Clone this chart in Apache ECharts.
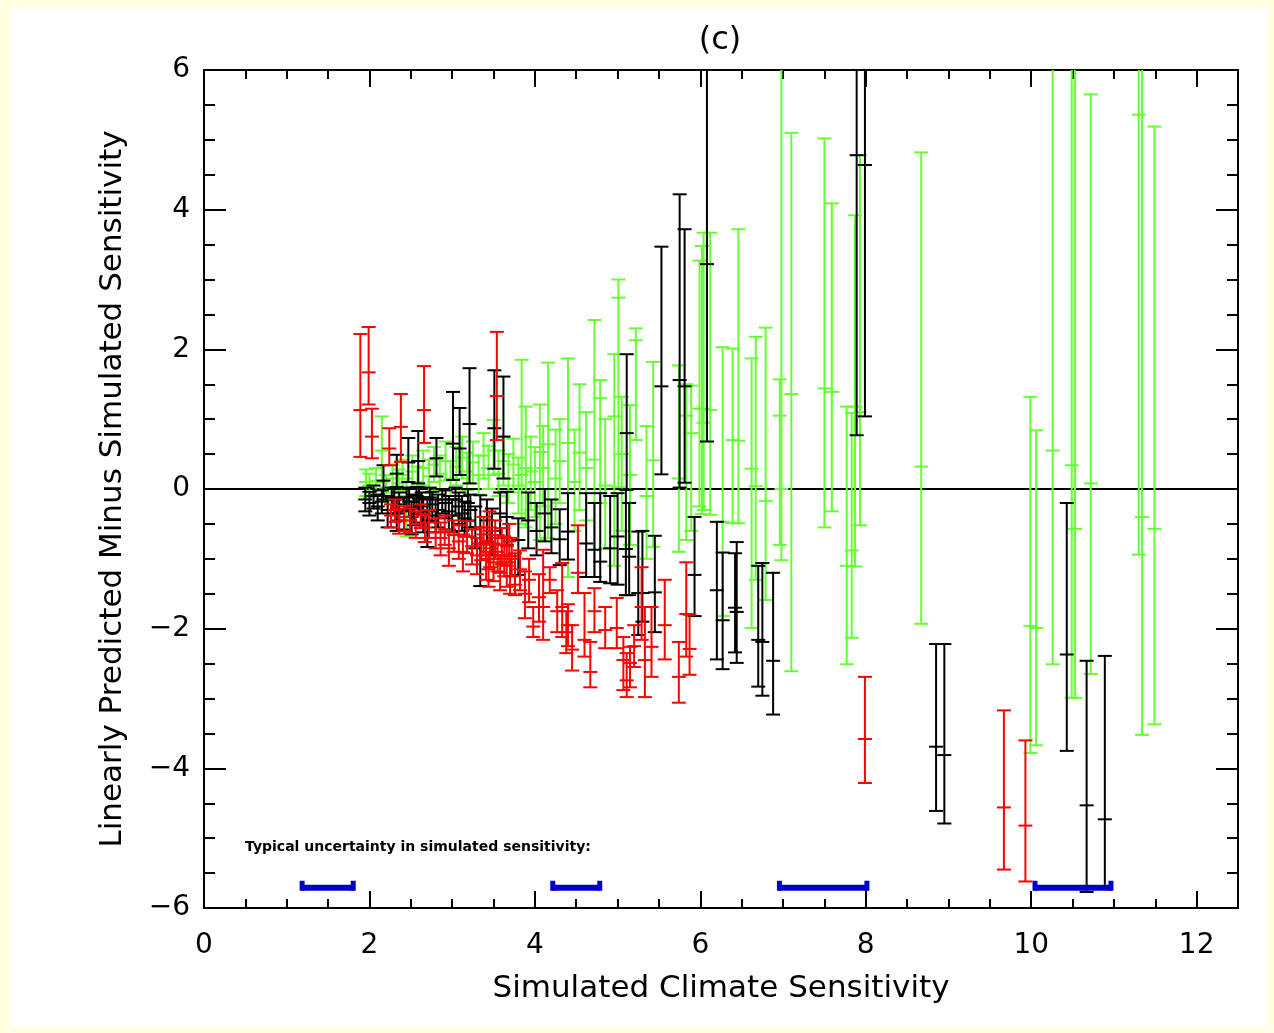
<!DOCTYPE html>
<html>
<head>
<meta charset="utf-8">
<title>(c)</title>
<script src="https://cdn.jsdelivr.net/npm/echarts@6/dist/echarts.min.js"></script>
<style>
  html, body { margin: 0; padding: 0; background: #ffffe0; }
  #main { width: 1274px; height: 1033px; }
</style>
</head>
<body>
<div id="main"></div>
<script>
// each error bar: [simulated sensitivity, predicted minus simulated, low, high]
var redBars = [
  [1.89, 1.13, 0.46, 2.22], [1.99, 1.67, 1.21, 2.32], [2.03, 0.75, 0.44, 1.15],
  [2.24, 0.58, 0.34, 0.87], [2.38, 0.89, 0.39, 1.36], [2.66, 1.13, 0.66, 1.76],
  [3.54, 1.33, 0.70, 2.25],
  [2.26, -0.38, -0.55, -0.22], [2.31, -0.30, -0.47, -0.15], [2.36, -0.46, -0.64, -0.28],
  [2.42, -0.40, -0.60, -0.24], [2.49, -0.45, -0.63, -0.28], [2.56, -0.50, -0.70, -0.32],
  [2.62, -0.38, -0.56, -0.22], [2.67, -0.55, -0.76, -0.36], [2.72, -0.48, -0.70, -0.30],
  [2.80, -0.62, -0.85, -0.42], [2.86, -0.70, -0.95, -0.48], [2.91, -0.58, -0.80, -0.38],
  [2.96, -0.85, -1.10, -0.62], [3.02, -0.66, -0.90, -0.45], [3.08, -0.75, -1.00, -0.52],
  [3.13, -0.90, -1.18, -0.65], [3.18, -0.68, -0.92, -0.46], [3.24, -0.82, -1.08, -0.58],
  [3.30, -0.95, -1.22, -0.70], [3.35, -0.78, -1.02, -0.55], [3.38, -0.65, -0.95, -0.40],
  [3.41, -1.00, -1.30, -0.74], [3.44, -1.15, -1.40, -0.90], [3.45, -0.55, -0.80, -0.32],
  [3.46, -0.85, -1.12, -0.60], [3.50, -1.05, -1.32, -0.78], [3.52, -0.70, -1.00, -0.45],
  [3.55, -0.90, -1.18, -0.66], [3.58, -1.20, -1.45, -0.95], [3.60, -0.80, -1.08, -0.56],
  [3.63, -0.95, -1.25, -0.68], [3.66, -1.10, -1.40, -0.82], [3.69, -0.75, -1.05, -0.50],
  [3.70, -1.25, -1.50, -1.00], [3.72, -0.96, -1.25, -0.70],
  [3.76, -1.37, -1.52, -0.92], [3.82, -1.15, -1.45, -0.88], [3.88, -1.50, -1.85, -1.18],
  [3.93, -1.30, -1.62, -1.00], [3.98, -1.97, -2.12, -1.69], [4.05, -1.55, -1.90, -1.22],
  [4.10, -1.69, -2.16, -0.87], [4.18, -1.30, -1.49, -1.12], [4.27, -1.75, -2.05, -1.45],
  [4.33, -1.69, -2.12, -1.06], [4.38, -2.05, -2.35, -1.75], [4.40, -1.95, -2.25, -1.65],
  [4.45, -2.30, -2.60, -1.95], [4.52, -1.20, -1.49, -0.52],
  [4.60, -2.16, -2.40, -1.49], [4.67, -2.62, -2.84, -2.19], [4.72, -1.75, -2.05, -1.42],
  [4.85, -2.02, -2.28, -1.69], [4.99, -1.99, -2.28, -1.56], [5.07, -2.45, -2.88, -2.12],
  [5.11, -2.74, -2.98, -2.35], [5.15, -2.49, -2.84, -2.26], [5.20, -2.25, -2.55, -1.95],
  [5.29, -1.69, -2.16, -1.12], [5.33, -2.45, -2.98, -1.69], [5.41, -2.26, -2.69, -1.69],
  [5.57, -1.95, -2.44, -1.30], [5.74, -2.69, -3.06, -2.19], [5.83, -1.79, -2.40, -1.05],
  [5.87, -2.29, -2.66, -1.80],
  [7.99, -3.58, -4.21, -2.69], [9.67, -4.56, -5.45, -3.17], [9.93, -4.82, -5.62, -3.60]
];

var blackBars = [
  [2.17, 0.12, -0.15, 0.34], [2.33, 0.22, 0.03, 0.49], [2.47, 0.38, 0.10, 0.73],
  [2.59, 0.40, 0.08, 0.83], [2.81, 0.44, 0.18, 0.73], [3.01, 0.65, 0.13, 1.39],
  [3.09, 0.58, 0.20, 1.16], [3.21, 0.93, 0.08, 1.73], [3.51, 0.87, 0.29, 1.70],
  [3.62, 0.75, 0.15, 1.61], [5.11, 0.80, -0.01, 1.93], [5.53, 1.47, 0.21, 3.47],
  [5.75, 1.56, 0.02, 4.22], [5.81, 1.47, 0.09, 3.72], [6.08, 3.22, 0.68, 6.5],
  [7.89, 4.78, 0.77, 6.5], [7.99, 4.64, 1.04, 6.5],
  [1.95, -0.15, -0.32, 0.02], [2.00, -0.20, -0.38, -0.04], [2.05, -0.10, -0.28, 0.05],
  [2.10, -0.25, -0.45, -0.08], [2.15, -0.18, -0.35, -0.02], [2.22, -0.30, -0.55, -0.10],
  [2.27, -0.12, -0.30, 0.02], [2.30, -0.15, -0.35, 0.00], [2.33, -0.35, -0.60, -0.15],
  [2.36, -0.22, -0.45, -0.05], [2.42, -0.32, -0.58, -0.12], [2.45, -0.12, -0.30, 0.02],
  [2.48, -0.18, -0.40, 0.00], [2.51, -0.40, -0.65, -0.18], [2.54, -0.28, -0.52, -0.08],
  [2.57, -0.10, -0.28, 0.03], [2.60, -0.14, -0.36, 0.02], [2.63, -0.25, -0.48, -0.05],
  [2.65, -0.35, -0.62, -0.12], [2.70, -0.45, -0.83, -0.15], [2.73, -0.12, -0.32, 0.02],
  [2.76, -0.22, -0.46, -0.04], [2.80, -0.38, -0.62, -0.15],
  [2.83, -0.30, -0.55, -0.08], [2.88, -0.15, -0.35, 0.00], [2.92, -0.20, -0.42, -0.02],
  [2.96, -0.32, -0.58, -0.10], [3.00, -0.38, -0.62, -0.15],
  [3.04, -0.15, -0.38, 0.02], [3.08, -0.25, -0.50, -0.05], [3.12, -0.35, -0.60, -0.10],
  [3.15, -0.42, -0.68, -0.18], [3.19, -0.20, -0.45, 0.00], [3.22, -0.30, -0.55, -0.08],
  [3.28, -0.55, -0.85, -0.25], [3.34, -0.78, -1.39, -0.09], [3.42, -0.45, -0.75, -0.15],
  [3.48, -0.60, -0.95, -0.28], [3.58, -0.35, -0.70, -0.05], [3.66, -0.40, -0.80, -0.04],
  [3.80, -0.73, -1.23, -0.42], [3.92, -0.45, -0.85, -0.05], [4.02, -0.60, -0.95, -0.20],
  [4.12, -0.35, -0.75, 0.00], [4.20, -0.55, -0.92, -0.15], [4.30, -0.72, -1.09, -0.29],
  [4.40, -0.61, -1.01, -0.06], [4.62, -0.78, -1.26, -0.06], [4.72, -0.87, -1.26, -0.20],
  [4.79, -1.04, -1.33, -0.06], [4.91, -0.85, -1.35, -0.10], [5.00, -0.68, -1.37, -0.06],
  [5.10, -0.86, -1.52, -0.01], [5.14, -0.97, -1.52, -0.20], [5.25, -1.49, -2.09, -0.61],
  [5.30, -1.49, -1.90, -0.60], [5.45, -1.48, -2.05, -0.67], [5.93, -1.23, -1.82, -0.40],
  [6.20, -1.45, -2.44, -0.47], [6.27, -1.88, -2.58, -0.91], [6.42, -1.70, -2.34, -0.92],
  [6.44, -1.76, -2.49, -0.76], [6.70, -2.16, -2.83, -1.10], [6.75, -2.19, -2.96, -1.06],
  [6.88, -2.46, -3.23, -1.20],
  [8.85, -3.69, -4.61, -2.22], [8.95, -3.81, -4.79, -2.22], [10.43, -2.37, -3.75, -0.20],
  [10.67, -4.53, -5.77, -2.46], [10.89, -4.73, -5.70, -2.39]
];

var greenBars = [
  [1.96, 0.10, -0.10, 0.28], [2.00, 0.05, -0.12, 0.22], [2.08, 0.12, -0.08, 0.30],
  [2.15, 0.55, 0.10, 1.04], [2.20, 0.02, -0.18, 0.20], [2.28, 0.15, -0.05, 0.35],
  [2.35, 0.08, -0.15, 0.28], [2.40, 0.20, -0.02, 0.42], [2.45, -0.10, -0.68, 0.15],
  [2.52, 0.25, 0.02, 0.48], [2.58, 0.10, -0.12, 0.32], [2.65, 0.30, 0.05, 0.55],
  [2.72, 0.18, -0.05, 0.42], [2.78, 0.35, 0.10, 0.60], [2.85, 0.22, -0.02, 0.48],
  [2.92, 0.40, 0.12, 0.68], [2.98, 0.15, -0.10, 0.40], [3.05, 0.32, 0.05, 0.60],
  [3.12, 0.45, 0.15, 0.75], [3.18, 0.25, -0.02, 0.52], [3.25, 0.38, 0.08, 0.68],
  [3.32, 0.20, -0.08, 0.48], [3.38, 0.48, 0.15, 0.80], [3.44, 0.30, 0.00, 0.62],
  [3.50, 0.55, 0.20, 0.99], [3.56, 0.22, -0.10, 0.55], [3.62, 0.40, 0.05, 0.75],
  [3.68, 0.15, -0.20, 0.50], [3.74, 0.35, -0.05, 0.72], [3.80, 0.05, -0.35, 0.45],
  [3.84, 0.20, -0.50, 1.85], [3.89, 0.30, -0.55, 1.18], [3.95, 0.25, -0.30, 0.75],
  [4.00, 0.10, -0.40, 0.60], [4.06, 0.53, -0.73, 1.21], [4.10, 0.30, -0.25, 0.90],
  [4.16, 0.64, -0.70, 1.81], [4.25, 0.15, -0.50, 0.85], [4.30, 0.40, -0.20, 1.00],
  [4.40, 0.66, -1.26, 1.87], [4.48, 0.10, -0.60, 0.85], [4.54, 0.52, -0.30, 1.50],
  [4.62, 0.30, -0.45, 1.10], [4.72, 0.42, -1.26, 2.42], [4.79, 1.30, -0.20, 1.56],
  [4.85, 0.05, -0.85, 1.00], [4.96, 1.04, -1.10, 1.93], [5.01, 2.74, 0.03, 3.00],
  [5.05, 0.50, -0.60, 1.32], [5.15, 0.20, -0.80, 1.20], [5.22, 2.13, 0.70, 2.30],
  [5.35, -0.10, -1.00, 0.90], [5.43, 0.41, -0.83, 1.82], [5.74, 0.15, -0.90, 1.77],
  [5.83, 1.05, -0.73, 1.50], [5.89, 0.80, -0.60, 1.48], [5.99, 1.15, -0.25, 3.27],
  [6.02, 1.15, -0.36, 3.48], [6.04, 0.95, -0.30, 3.67], [6.12, 1.13, -0.37, 3.67],
  [6.27, -0.47, -1.82, 2.03], [6.39, 0.70, -0.49, 2.01], [6.46, 0.69, -0.49, 3.72],
  [6.62, 0.29, -1.99, 1.87], [6.67, 0.04, -1.30, 2.18], [6.79, -0.17, -1.59, 2.31],
  [6.96, 1.05, -0.80, 1.57], [6.98, 0.00, -1.02, 6.5], [7.10, 1.36, -2.61, 5.10],
  [7.50, 1.44, -0.55, 5.02], [7.59, 1.39, -0.32, 4.09], [7.77, -1.10, -2.51, 1.18],
  [7.83, -0.88, -2.13, 1.09], [7.87, 1.18, -1.11, 3.92], [7.93, 1.10, -0.52, 4.78],
  [8.67, 0.32, -1.93, 4.82], [9.99, -1.96, -3.78, 1.32], [10.06, -1.99, -3.67, 0.84],
  [10.26, 0.55, -2.51, 6.5], [10.49, 0.34, -2.99, 6.5], [10.53, -0.57, -2.99, 6.5],
  [10.72, 0.08, -2.65, 5.65], [11.30, 5.36, -0.94, 6.5], [11.34, -0.40, -3.52, 6.5],
  [11.49, -0.57, -3.37, 5.19]
];

// typical uncertainty in simulated sensitivity: [from, to, y]
var uncertaintyBars = [
  [1.18, 1.81, -5.71], [4.21, 4.79, -5.71], [6.95, 8.02, -5.71], [10.04, 10.97, -5.71]
];

var zeroLine = [[0, 0], [12.5, 0]];

var xTickLabels = ['0', '2', '4', '6', '8', '10', '12'];
var yTickLabels = ['\u22126', '\u22124', '\u22122', '0', '2', '4', '6'];

var FONT = 'DejaVu Sans';

function errorBarRenderer(color, width) {
  return function (params, api) {
    var x = api.value(0);
    var pc = api.coord([x, api.value(1)]);
    var plo = api.coord([x, api.value(2)]);
    var phi = api.coord([x, api.value(3)]);
    var hw = 7;
    var style = { stroke: color, lineWidth: width };
    return {
      type: 'group',
      children: [
        { type: 'line', shape: { x1: plo[0], y1: plo[1], x2: phi[0], y2: phi[1] }, style: style },
        { type: 'line', shape: { x1: plo[0] - hw, y1: plo[1], x2: plo[0] + hw, y2: plo[1] }, style: style },
        { type: 'line', shape: { x1: phi[0] - hw, y1: phi[1], x2: phi[0] + hw, y2: phi[1] }, style: style },
        { type: 'line', shape: { x1: pc[0] - hw, y1: pc[1], x2: pc[0] + hw, y2: pc[1] }, style: style }
      ]
    };
  };
}

function uncertaintyRenderer(params, api) {
  var p0 = api.coord([api.value(0), api.value(2)]);
  var p1 = api.coord([api.value(1), api.value(2)]);
  var blue = '#0000cc';
  return {
    type: 'group',
    children: [
      { type: 'rect', shape: { x: p0[0], y: p0[1] - 3, width: p1[0] - p0[0], height: 6 }, style: { fill: blue } },
      { type: 'rect', shape: { x: p0[0] - 2, y: p0[1] - 7, width: 5, height: 10 }, style: { fill: blue } },
      { type: 'rect', shape: { x: p1[0] - 3, y: p1[1] - 7, width: 5, height: 10 }, style: { fill: blue } }
    ]
  };
}

function tickLabel(list, min) {
  return function (value) {
    var i = Math.round((value - min) / 2);
    return list[i] || '';
  };
}

var chart = echarts.init(document.getElementById('main'), null, { renderer: 'canvas' });

var axisCommon = {
  axisLine: { show: true, onZero: false, lineStyle: { color: '#000', width: 2 } },
  splitLine: { show: false }
};

var option = {
  backgroundColor: '#ffffe0',
  animation: false,
  grid: { left: 204, top: 70, width: 1034, height: 838, containLabel: false },
  graphic: [
    { type: 'rect', z: -10, shape: { x: 10, y: 7, width: 1258, height: 1020 }, style: { fill: '#ffffff' } },
    { type: 'text', x: 720, y: 41, style: { text: '(c)', font: '32px ' + FONT, fill: '#000', align: 'center', verticalAlign: 'middle' } },
    { type: 'text', x: 245, y: 847, style: { text: 'Typical uncertainty in simulated sensitivity:', font: 'bold 14px ' + FONT, fill: '#000', align: 'left', verticalAlign: 'middle' } }
  ],
  xAxis: [
    Object.assign({
      type: 'value', position: 'bottom', min: 0, max: 12.5, interval: 2,
      name: 'Simulated Climate Sensitivity', nameLocation: 'middle', nameGap: 65,
      nameTextStyle: { fontFamily: FONT, fontSize: 31, color: '#000' },
      axisTick: { inside: true, length: 17, lineStyle: { width: 2, color: '#000' } },
      minorTick: { show: true, splitNumber: 4, length: 9, lineStyle: { width: 2, color: '#000' } },
      axisLabel: { margin: 24, fontFamily: FONT, fontSize: 28, color: '#000', showMaxLabel: false, formatter: tickLabel(xTickLabels, 0) }
    }, axisCommon),
    Object.assign({
      type: 'value', position: 'top', min: 0, max: 12.5, interval: 2,
      axisTick: { inside: true, length: 17, lineStyle: { width: 2, color: '#000' } },
      minorTick: { show: true, splitNumber: 4, length: 9, lineStyle: { width: 2, color: '#000' } },
      axisLabel: { show: false }
    }, axisCommon)
  ],
  yAxis: [
    Object.assign({
      type: 'value', position: 'left', min: -6, max: 6, interval: 2,
      name: 'Linearly Predicted Minus Simulated Sensitivity', nameLocation: 'middle', nameGap: 76, nameRotate: 90,
      nameTextStyle: { fontFamily: FONT, fontSize: 31, color: '#000' },
      axisTick: { inside: true, length: 22, lineStyle: { width: 2, color: '#000' } },
      minorTick: { show: true, splitNumber: 4, length: 11, lineStyle: { width: 2, color: '#000' } },
      axisLabel: { margin: 14, fontFamily: FONT, fontSize: 28, color: '#000', formatter: tickLabel(yTickLabels, -6) }
    }, axisCommon),
    Object.assign({
      type: 'value', position: 'right', min: -6, max: 6, interval: 2,
      axisTick: { inside: true, length: 22, lineStyle: { width: 2, color: '#000' } },
      minorTick: { show: true, splitNumber: 4, length: 11, lineStyle: { width: 2, color: '#000' } },
      axisLabel: { show: false }
    }, axisCommon)
  ],
  series: [
    {
      // horizontal zero line
      type: 'line', data: zeroLine, symbol: 'none', z: 1,
      lineStyle: { color: '#000', width: 2 }, silent: true
    },
    { type: 'custom', name: 'green', data: greenBars, z: 2, clip: true, encode: { x: 0, y: [1, 2, 3] }, renderItem: errorBarRenderer('#66ff33', 2) },
    { type: 'custom', name: 'black', data: blackBars, z: 3, clip: true, encode: { x: 0, y: [1, 2, 3] }, renderItem: errorBarRenderer('#000000', 2) },
    { type: 'custom', name: 'red', data: redBars, z: 4, clip: true, encode: { x: 0, y: [1, 2, 3] }, renderItem: errorBarRenderer('#ff0000', 2) },
    { type: 'custom', name: 'uncertainty', data: uncertaintyBars, z: 5, encode: { x: [0, 1], y: 2 }, renderItem: uncertaintyRenderer }
  ]
};

chart.setOption(option);
</script>
</body>
</html>
